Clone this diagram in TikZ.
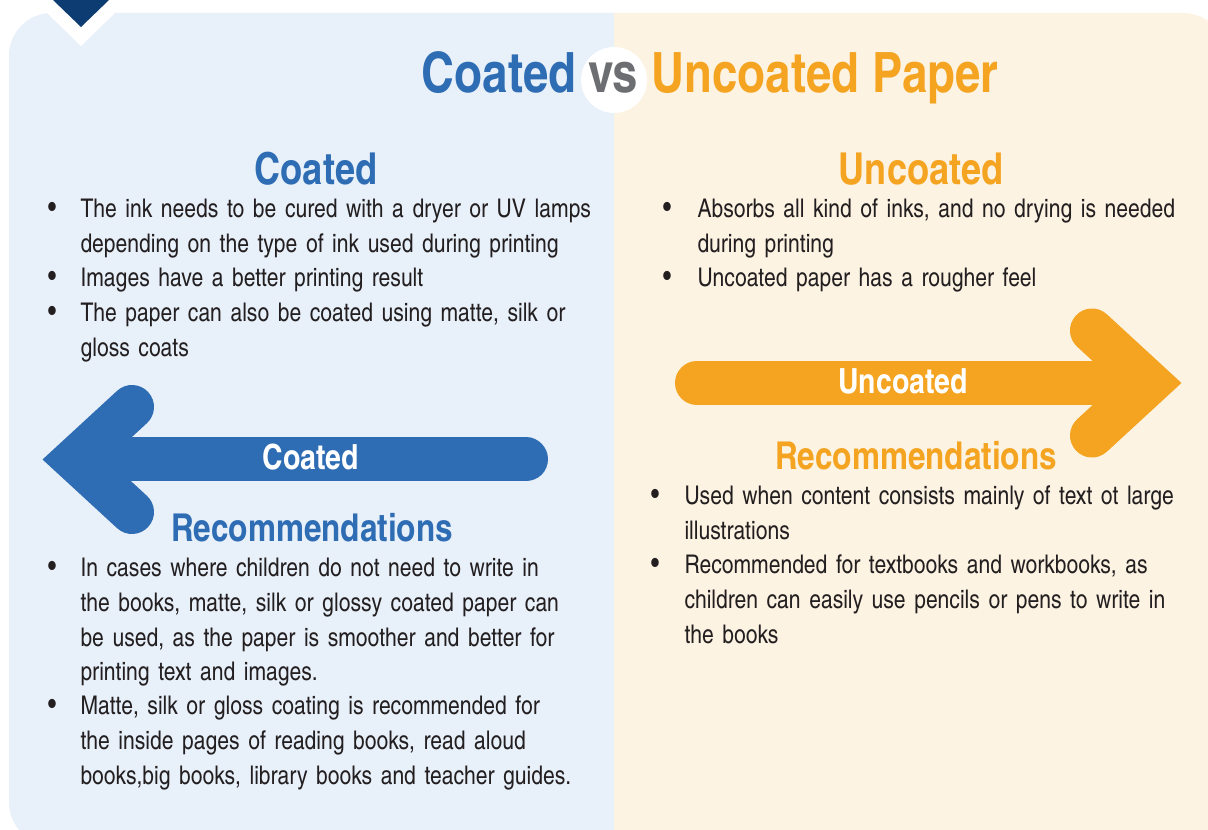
\documentclass[tikz,border=0pt]{standalone}
\usepackage{fontspec}
\newfontfamily\cn{texgyreheroscn}[Extension=.otf, UprightFont=*-regular, BoldFont=*-bold]
\usetikzlibrary{positioning}

\definecolor{coatblue}{RGB}{46,109,180}
\definecolor{uncoatorange}{RGB}{244,164,33}
\definecolor{vsgray}{RGB}{109,110,113}
\definecolor{inkgray}{RGB}{35,31,32}
\definecolor{coatbg}{RGB}{232,240,250}
\definecolor{uncoatbg}{RGB}{253,243,227}
\definecolor{cornernavy}{RGB}{13,60,115}

\newcommand\bodyfont{\cn\fontsize{19.3}{25.9}\selectfont}

\tikzset{every picture/.style={line width=0.75pt}}
\tikzset{
  bigtitle/.style={inner sep=0pt, anchor=base, font={\cn\bfseries\fontsize{41.7}{48}\selectfont}},
  heading/.style={inner sep=0pt, anchor=base, font={\cn\bfseries\fontsize{33}{38}\selectfont}},
  subheading/.style={inner sep=0pt, anchor=base, font={\cn\bfseries\fontsize{28.8}{34}\selectfont}},
  arrowlabel/.style={inner sep=0pt, anchor=base, text=white, font={\cn\bfseries\fontsize{26}{30}\selectfont}},
  item/.style={inner sep=0pt, anchor=base west, text=inkgray, text width=420pt, align=left, font=\bodyfont},
  bullet/.style={inner sep=0pt, anchor=base, text=inkgray, font={\cn\fontsize{22}{25.9}\selectfont}},
  fatarrow/.style={line width=33pt, line cap=round, line join=miter}
}

\begin{document}
\begin{tikzpicture}[x=0.75pt,y=0.75pt,yscale=-1,xscale=1]
\path[use as bounding box] (0,0) rectangle (1208,830);

%Shape: Background panels
\begin{scope}
\clip[rounded corners=32] (9,13) rectangle (1226,845);
\fill[coatbg] (0,0) rectangle (614,845);
\fill[uncoatbg] (614,0) rectangle (1226,845);
\end{scope}

%Shape: Corner marker
\fill[white] (47,13) -- (115,13) -- (81,46) -- cycle;
\fill[cornernavy] (53,0) -- (109,0) -- (81,27) -- cycle;

%Shape: vs disc
\fill[white] (614,80) circle (33);

% Title
\node[bigtitle, coatblue, anchor=base east] (tcoat) at (577,93) {Coated};
\node[bigtitle, vsgray] (tvs) at (613,93) {vs};
\node[bigtitle, uncoatorange, anchor=base west] (tuncoat) at (651,93) {Uncoated Paper};

% Headings
\node[heading, coatblue] (hcoat) at (316,185) {Coated};
\node[heading, uncoatorange] (huncoat) at (921,185) {Uncoated};

% Coated list
\node[bullet] at (52,218) {•};
\node[item] (c1) at (80,218) {The ink needs to be cured with a dryer or UV lamps\\depending on the type of ink used during printing};
\node[bullet] at (52,287) {•};
\node[item] (c2) at (80,287) {Images have a better printing result};
\node[bullet] at (52,322) {•};
\node[item] (c3) at (80,322) {The paper can also be coated using matte, silk or\\gloss coats};

% Uncoated list
\node[bullet] at (667,218) {•};
\node[item] (u1) at (697,218) {Absorbs all kind of inks, and no drying is needed\\during printing};
\node[bullet] at (667,287) {•};
\node[item] (u2) at (697,287) {Uncoated paper has a rougher feel};

%Shape: Coated arrow
\coordinate (cend1) at (132,407);
\coordinate (cvertex) at (75,459.5);
\coordinate (cend2) at (132,512);
\coordinate (cneck) at (112,459.5);
\coordinate (ctail) at (526,459.5);
\draw[fatarrow, coatblue] (cend1) -- (cvertex) -- (cend2);
\draw[fatarrow, coatblue] (cneck) -- (ctail);
\node[arrowlabel] (lcoat) at (311,470) {Coated};

%Shape: Uncoated arrow
\coordinate (uend1) at (1092,330.5);
\coordinate (uvertex) at (1149,383);
\coordinate (uend2) at (1092,435.5);
\coordinate (uneck) at (1112,383);
\coordinate (utail) at (697,383);
\draw[fatarrow, uncoatorange] (uend1) -- (uvertex) -- (uend2);
\draw[fatarrow, uncoatorange] (utail) -- (uneck);
\node[arrowlabel] (luncoat) at (903,394) {Uncoated};

% Recommendations headings
\node[subheading, coatblue] (rcoat) at (312,542) {Recommendations};
\node[subheading, uncoatorange] (runcoat) at (916,470) {Recommendations};

% Coated recommendations
\node[bullet] at (52,577) {•};
\node[item] (cr1) at (80,577) {In cases where children do not need to write in\\the books, matte, silk or glossy coated paper can\\be used, as the paper is smoother and better for\\printing text and images.};
\node[bullet] at (52,715) {•};
\node[item] (cr2) at (80,715) {Matte, silk or gloss coating is recommended for\\the inside pages of reading books, read aloud\\books,big books, library books and teacher guides.};

% Uncoated recommendations
\node[bullet] at (655,505) {•};
\node[item] (ur1) at (684,505) {Used when content consists mainly of text ot large\\illustrations};
\node[bullet] at (655,574) {•};
\node[item] (ur2) at (684,574) {Recommended for textbooks and workbooks, as\\children can easily use pencils or pens to write in\\the books};
\end{tikzpicture}
\end{document}
